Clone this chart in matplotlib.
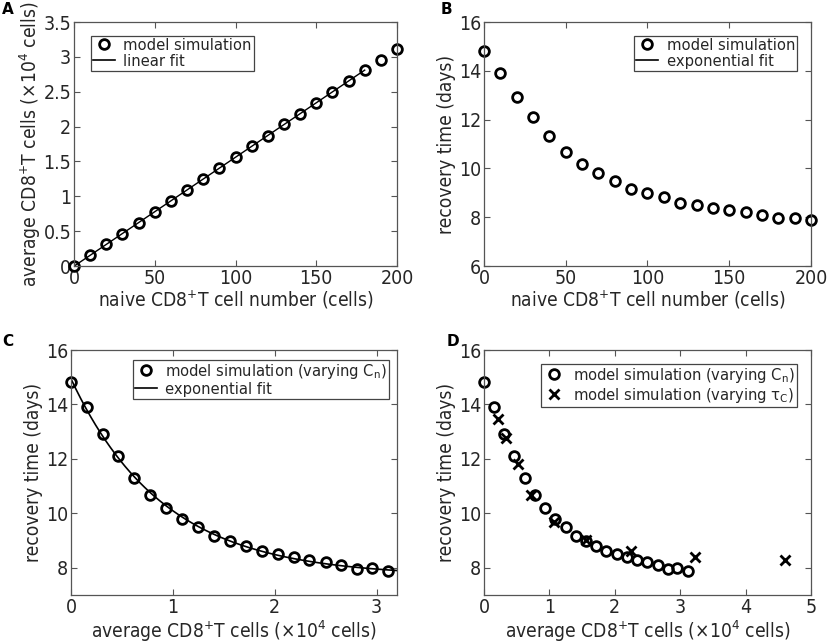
import numpy as np
import matplotlib
matplotlib.use("Agg")
import matplotlib.pyplot as plt
from matplotlib.lines import Line2D

# ---- data ----
naive_cells = [0, 10, 20, 30, 40, 50, 60, 70, 80, 90, 100, 110, 120, 130, 140, 150, 160, 170, 180, 190, 200]
avg_cd8 = [0.0, 0.155, 0.31, 0.465, 0.62, 0.78, 0.935, 1.09, 1.25, 1.40, 1.557, 1.715, 1.87, 2.03,
           2.185, 2.34, 2.50, 2.655, 2.81, 2.957, 3.114]
recovery = [14.81, 13.90, 12.91, 12.11, 11.31, 10.67, 10.19, 9.80, 9.48, 9.17, 8.99, 8.81, 8.60,
            8.50, 8.38, 8.28, 8.20, 8.09, 7.97, 7.98, 7.89]
tau_avg_cd8 = [0.214, 0.332, 0.515, 0.724, 1.07, 1.56, 2.25, 3.23, 4.61]
tau_recovery = [13.47, 12.76, 11.81, 10.69, 9.69, 9.02, 8.61, 8.40, 8.28]
linear_fit_max = 180

# ---- style ----
plt.rcParams['font.family'] = ['DejaVu Sans']
plt.rcParams['font.stretch'] = 'condensed'
plt.rcParams['mathtext.fontset'] = 'custom'
plt.rcParams['mathtext.rm'] = 'DejaVu Sans:stretch=condensed'
plt.rcParams['mathtext.it'] = 'DejaVu Sans:stretch=condensed'
txt = '#262626'
spine = '#555555'
plt.rcParams['text.color'] = txt
plt.rcParams['axes.labelcolor'] = txt
plt.rcParams['xtick.color'] = txt
plt.rcParams['ytick.color'] = txt

fig = plt.figure(figsize=(8.27, 6.44), dpi=100)
W, H = 827, 644
LBL = 13.8
TCK = 14

def make_ax(l, t, r, b):
    ax = fig.add_axes([l / W, 1 - b / H, (r - l) / W, (b - t) / H])
    for s in ax.spines.values():
        s.set_color(spine)
        s.set_linewidth(0.9)
    ax.tick_params(direction='in', top=True, right=True, length=4, width=0.8,
                   labelsize=TCK, pad=2, color=spine)
    return ax

mk = dict(marker='o', ls='none', mfc='none', mec='black', ms=7, mew=2.0, clip_on=False)

def leg(ax, handles, labels, loc, bbox):
    lg = ax.legend(handles, labels, loc=loc, bbox_to_anchor=bbox, fontsize=11.8, frameon=True,
                   fancybox=False, edgecolor='#444444', framealpha=1, borderpad=0.12,
                   handlelength=1.35, handletextpad=0.5, labelspacing=0.05, borderaxespad=0.0)
    lg.get_frame().set_linewidth(0.9)
    return lg

def fig_bbox(ax, x, y):
    # convert figure pixel (from top-left) to axes fraction
    pos = ax.get_position()
    fx, fy = x / W, 1 - y / H
    return ((fx - pos.x0) / pos.width, (fy - pos.y0) / pos.height)

lkw = dict(color='black', lw=1.2)

# ---- A ----
axA = make_ax(74, 22, 397, 266)
xa = np.array(naive_cells, float)
ya = np.array(avg_cd8, float)
sel = xa <= linear_fit_max
p = np.polyfit(xa[sel], ya[sel], 1)
xf = np.linspace(0, linear_fit_max, 50)
axA.plot(xf, np.polyval(p, xf), color='black', lw=1.0)
axA.plot(xa, ya, **mk)
axA.set_xlim(0, 200)
axA.set_ylim(0, 3.5)
axA.set_xticks([0, 50, 100, 150, 200])
axA.set_yticks([0, 0.5, 1, 1.5, 2, 2.5, 3, 3.5])
axA.set_yticklabels(['0', '0.5', '1', '1.5', '2', '2.5', '3', '3.5'])
axA.set_xlabel(r'naive CD8$^{+}$T cell number (cells)', fontsize=LBL, labelpad=1)
axA.set_ylabel(r'average CD8$^{+}$T cells ($\times$10$^{4}$ cells)', fontsize=LBL, labelpad=0)
leg(axA, [Line2D([], [], **mk), Line2D([], [], **lkw)],
    ['model simulation', 'linear fit'], 'upper left', fig_bbox(axA, 91, 36))

# ---- B ----
axB = make_ax(484, 22, 811, 266)
axB.plot(xa, recovery, **mk)
axB.set_xlim(0, 200)
axB.set_ylim(6, 16)
axB.set_xticks([0, 50, 100, 150, 200])
axB.set_yticks([6, 8, 10, 12, 14, 16])
axB.set_xlabel(r'naive CD8$^{+}$T cell number (cells)', fontsize=LBL, labelpad=1)
axB.set_ylabel('recovery time (days)', fontsize=LBL, labelpad=2)
leg(axB, [Line2D([], [], **mk), Line2D([], [], **lkw)],
    ['model simulation', 'exponential fit'], 'upper right', fig_bbox(axB, 797, 36))

# ---- C ----
axC = make_ax(71, 350, 397, 595)
yr = np.array(recovery, float)
best = None
for c in np.linspace(6.0, yr.min() - 0.01, 400):
    q = np.polyfit(ya, np.log(yr - c), 1)
    err = np.sum((c + np.exp(np.polyval(q, ya)) - yr) ** 2)
    if best is None or err < best[0]:
        best = (err, c, q)
_, cfit, qfit = best
xc = np.linspace(0, 3.2, 200)
axC.plot(xc, cfit + np.exp(np.polyval(qfit, xc)), color='black', lw=1.2)
axC.plot(ya, yr, **mk)
axC.set_xlim(0, 3.2)
axC.set_ylim(7, 16)
axC.set_xticks([0, 1, 2, 3])
axC.set_yticks([8, 10, 12, 14, 16])
axC.set_xlabel(r'average CD8$^{+}$T cells ($\times$10$^{4}$ cells)', fontsize=LBL, labelpad=1)
axC.set_ylabel('recovery time (days)', fontsize=LBL, labelpad=2)
leg(axC, [Line2D([], [], **mk), Line2D([], [], **lkw)],
    [r'model simulation (varying C$_{n}$)', 'exponential fit'], 'upper right',
    fig_bbox(axC, 389, 360))

# ---- D ----
axD = make_ax(484, 350, 811, 595)
axD.plot(ya, yr, **mk)
mx = dict(marker='x', ls='none', color='black', ms=7.5, mew=2.0, clip_on=False)
axD.plot(tau_avg_cd8, tau_recovery, **mx)
axD.set_xlim(0, 5)
axD.set_ylim(7, 16)
axD.set_xticks([0, 1, 2, 3, 4, 5])
axD.set_yticks([8, 10, 12, 14, 16])
axD.set_xlabel(r'average CD8$^{+}$T cells ($\times$10$^{4}$ cells)', fontsize=LBL, labelpad=1)
axD.set_ylabel('recovery time (days)', fontsize=LBL, labelpad=2)
leg(axD, [Line2D([], [], **mk), Line2D([], [], **mx)],
    [r'model simulation (varying C$_{n}$)', r'model simulation (varying $\tau_{C}$)'],
    'upper right', fig_bbox(axD, 797, 364))

# panel letters
for letter, (x, y) in zip('ABCD', [(2, 10), (441, 10), (2, 341), (447, 342)]):
    fig.text(x / W, 1 - y / H, letter, fontsize=11, fontweight='bold', color='black',
             ha='left', va='center', fontstretch='normal')

fig.savefig('out.png', dpi=100)
